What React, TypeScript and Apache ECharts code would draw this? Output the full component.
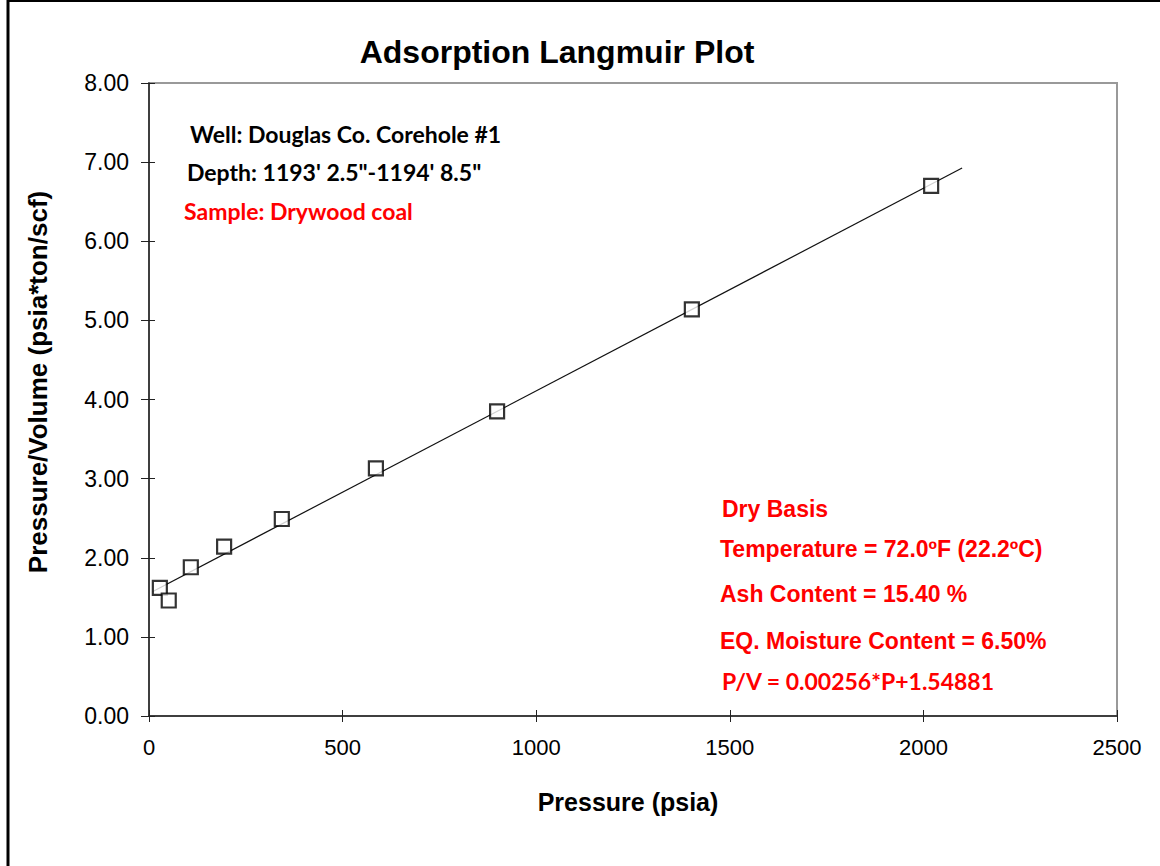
import React, { useEffect, useRef } from "react";
import * as echarts from "echarts";

const pressure = [28, 51, 108, 194, 343, 586, 899, 1402, 2020];
const pOverV = [1.62, 1.46, 1.88, 2.14, 2.49, 3.13, 3.85, 5.14, 6.7];
const fitP = [10, 2100];
const fitPV = [1.5744, 6.9248];

const titleText = "Adsorption Langmuir Plot";
const xName = "Pressure (psia)";
const yName = "Pressure/Volume (psia*ton/scf)";
const infoBlack = ["Well: Douglas Co. Corehole #1", "Depth: 1193' 2.5\"-1194' 8.5\""];
const infoSample = "Sample: Drywood coal";
const redNotes = [
  "Dry Basis",
  "Temperature = 72.0ºF (22.2ºC)",
  "Ash Content = 15.40 %",
  "EQ. Moisture Content = 6.50%",
];
const equation = "P/V = 0.00256*P+1.54881";

export default function App() {
  const ref = useRef<HTMLDivElement>(null);
  useEffect(() => {
    if (!ref.current) return;
    const chart = echarts.init(ref.current, null, { renderer: "svg" });
    const arial = "Liberation Sans, Arial, sans-serif";
    const lato = "Lato, sans-serif";
    const redY = [509, 549, 594, 641];
    const redX = [722, 720, 720, 720];
    chart.setOption({
      animation: false,
      backgroundColor: "#fff",
      title: {
        text: titleText,
        left: 552,
        top: 31,
        textAlign: "center",
        textStyle: { fontFamily: arial, fontSize: 32, fontWeight: "bold", color: "#000" },
      },
      grid: {
        left: 149,
        top: 83,
        width: 968,
        height: 633,
        show: true,
        borderColor: "#999",
        borderWidth: 2,
        backgroundColor: "transparent",
      },
      xAxis: [
        {
          type: "value",
          min: 0,
          max: 2500,
          interval: 500,
          axisLine: { show: true, lineStyle: { color: "#222", width: 1.5 } },
          axisTick: { show: true, length: 6, lineStyle: { color: "#222" } },
          axisLabel: {
            margin: 20,
            fontFamily: arial,
            fontSize: 22,
            color: "#000",
            formatter: (v: number) => String(v),
          },
          splitLine: { show: false },
        },
        {
          type: "value",
          min: 0,
          max: 2500,
          interval: 500,
          position: "bottom",
          axisLine: { show: false },
          axisTick: { show: true, inside: true, length: 6, lineStyle: { color: "#222" } },
          axisLabel: { show: false },
          splitLine: { show: false },
        },
      ],
      yAxis: [
        {
          type: "value",
          min: 0,
          max: 8,
          interval: 1,
          axisLine: { show: true, lineStyle: { color: "#222", width: 1.5 } },
          axisTick: { show: true, length: 8, lineStyle: { color: "#222" } },
          axisLabel: {
            margin: 20,
            fontFamily: arial,
            fontSize: 23,
            color: "#000",
            formatter: (v: number) => v.toFixed(2),
          },
          splitLine: { show: false },
        },
        {
          type: "value",
          min: 0,
          max: 8,
          interval: 1,
          position: "left",
          axisLine: { show: false },
          axisTick: { show: true, inside: true, length: 6, lineStyle: { color: "#222" } },
          axisLabel: { show: false },
          splitLine: { show: false },
        },
      ],
      series: [
        {
          type: "line",
          data: fitP.map((p, i) => [p, fitPV[i]]),
          showSymbol: false,
          symbol: "none",
          lineStyle: { color: "#111", width: 1.2 },
          z: 2,
        },
        {
          type: "scatter",
          data: pressure.map((p, i) => [p, pOverV[i]]),
          symbol: "rect",
          symbolSize: 14,
          itemStyle: { color: "#fff", borderColor: "#000", borderWidth: 2.2 },
          z: 3,
        },
      ],
      graphic: [
        { type: "line", shape: { x1: 8, y1: 0, x2: 8, y2: 866 }, style: { stroke: "#000", lineWidth: 3 } },
        { type: "line", shape: { x1: 8, y1: 1, x2: 1160, y2: 1 }, style: { stroke: "#000", lineWidth: 2 } },
        {
          type: "text",
          x: 628,
          y: 802,
          style: {
            text: xName,
            font: `bold 25px ${arial}`,
            fill: "#000",
            textAlign: "center",
            textVerticalAlign: "middle",
          },
        },
        {
          type: "text",
          x: 38,
          y: 382,
          rotation: Math.PI / 2,
          style: {
            text: yName,
            font: `bold 26px ${arial}`,
            fill: "#000",
            textAlign: "center",
            textVerticalAlign: "middle",
          },
        },
        {
          type: "text",
          x: 190,
          y: 134,
          style: { text: infoBlack[0], font: `bold 23px ${lato}`, fill: "#000", textVerticalAlign: "middle" },
        },
        {
          type: "text",
          x: 187,
          y: 172,
          style: { text: infoBlack[1], font: `bold 23px ${lato}`, fill: "#000", textVerticalAlign: "middle" },
        },
        {
          type: "text",
          x: 184,
          y: 211,
          style: { text: infoSample, font: `bold 23px ${lato}`, fill: "#ff0000", textVerticalAlign: "middle" },
        },
        ...redNotes.map((t, i) => ({
          type: "text",
          x: redX[i],
          y: redY[i],
          style: { text: t, font: `bold 23px ${arial}`, fill: "#ff0000", textVerticalAlign: "middle" },
        })),
        {
          type: "text",
          x: 722,
          y: 681,
          style: { text: equation, font: `bold 23px ${lato}`, fill: "#ff0000", textVerticalAlign: "middle" },
        },
      ],
    });
    return () => chart.dispose();
  }, []);
  return (
    <div
      ref={ref}
      style={{ position: "fixed", left: 0, top: 0, width: 1160, height: 866, background: "#fff" }}
    />
  );
}
